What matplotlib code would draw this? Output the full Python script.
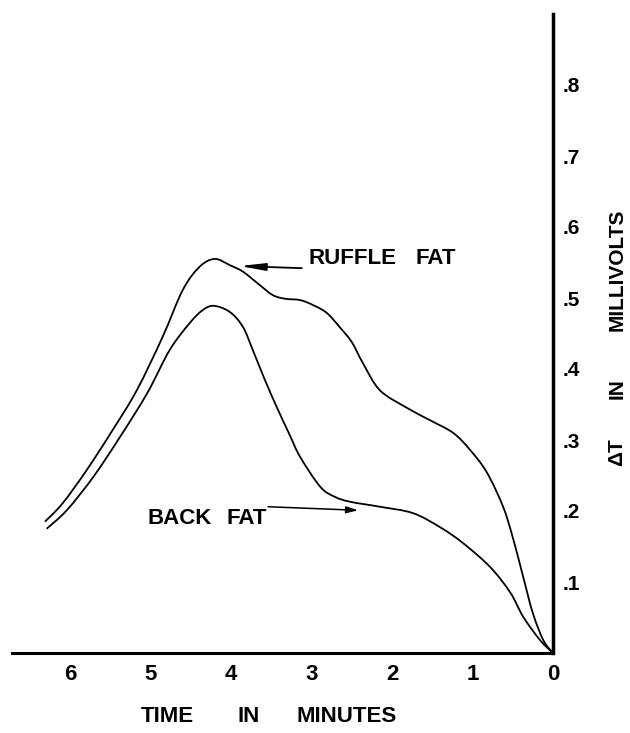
import matplotlib
matplotlib.use("Agg")
import matplotlib.pyplot as plt
from matplotlib.path import Path
from matplotlib.patches import PathPatch

plt.rcParams['font.family'] = ['Liberation Sans Narrow', 'Liberation Sans', 'DejaVu Sans']
plt.rcParams['font.weight'] = 'bold'

# time before end (minutes) and temperature difference (millivolts)
ruffle_t = [6.31, 6.09, 5.79, 5.47, 5.17, 4.85, 4.60, 4.39, 4.20, 4.01, 3.85,
            3.64, 3.48, 3.33, 3.14, 2.98, 2.81, 2.65, 2.50, 2.36, 2.15, 1.81,
            1.53, 1.24, 1.03, 0.82, 0.62, 0.50, 0.37, 0.25, 0.12, 0.0]
ruffle_mv = [0.185, 0.211, 0.258, 0.314, 0.370, 0.445, 0.511, 0.544, 0.555,
             0.546, 0.537, 0.518, 0.504, 0.499, 0.497, 0.490, 0.479, 0.459,
             0.438, 0.408, 0.370, 0.345, 0.328, 0.310, 0.286, 0.254, 0.206,
             0.163, 0.107, 0.056, 0.018, 0.0]

back_t = [6.29, 6.04, 5.71, 5.38, 5.04, 4.76, 4.51, 4.35, 4.21, 4.01, 3.85,
          3.73, 3.58, 3.43, 3.27, 3.14, 2.89, 2.71, 2.52, 2.15, 1.74, 1.40,
          1.12, 0.78, 0.53, 0.37, 0.16, 0.0]
back_mv = [0.175, 0.201, 0.248, 0.304, 0.366, 0.427, 0.465, 0.483, 0.489,
           0.480, 0.459, 0.427, 0.385, 0.346, 0.307, 0.276, 0.234, 0.220,
           0.213, 0.206, 0.197, 0.177, 0.155, 0.121, 0.085, 0.051, 0.018, 0.0]

x_ticks = [6, 5, 4, 3, 2, 1, 0]
y_ticks = [0.1, 0.2, 0.3, 0.4, 0.5, 0.6, 0.7, 0.8]
y_ticklabels = ['.1', '.2', '.3', '.4', '.5', '.6', '.7', '.8']


def smooth_curve(ax, xs, ys, **kw):
    # pass a cubic bezier through every point (catmull-rom tangents)
    pts = list(zip(xs, ys))
    verts = [pts[0]]
    codes = [Path.MOVETO]
    for i in range(len(pts) - 1):
        p0 = pts[i - 1] if i > 0 else pts[i]
        p1, p2 = pts[i], pts[i + 1]
        p3 = pts[i + 2] if i + 2 < len(pts) else pts[i + 1]
        c1 = (p1[0] + (p2[0] - p0[0]) / 6, p1[1] + (p2[1] - p0[1]) / 6)
        c2 = (p2[0] - (p3[0] - p1[0]) / 6, p2[1] - (p3[1] - p1[1]) / 6)
        verts += [c1, c2, p2]
        codes += [Path.CURVE4] * 3
    patch = PathPatch(Path(verts, codes), facecolor='none', **kw)
    ax.add_patch(patch)
    return patch


W, H = 630, 733
fig = plt.figure(figsize=(W / 100, H / 100), dpi=100)
ax = fig.add_axes([12 / W, 1 - 653 / H, (553 - 12) / W, (653 - 14) / H])

smooth_curve(ax, ruffle_t, ruffle_mv, edgecolor='black', lw=1.3, clip_on=False)
smooth_curve(ax, back_t, back_mv, edgecolor='black', lw=1.3, clip_on=False)

ax.set_xlim(6.72, 0)
ax.set_ylim(0, 0.9)

for side in ('top', 'left'):
    ax.spines[side].set_visible(False)
ax.spines['right'].set_linewidth(2.5)
ax.spines['bottom'].set_linewidth(2.2)

ax.set_xticks(x_ticks)
ax.set_xticklabels([str(t) for t in x_ticks])
ax.set_yticks(y_ticks)
ax.set_yticklabels(y_ticklabels)
ax.yaxis.tick_right()
ax.tick_params(axis='x', length=0, pad=8, labelsize=16)
ax.tick_params(axis='y', length=0, pad=7, labelsize=15)

# curve labels with pointers
ax.text(3.04, 0.555, 'RUFFLE', fontsize=16, va='center', ha='left')
ax.text(1.71, 0.555, 'FAT', fontsize=16, va='center', ha='left')
ax.annotate('', xy=(3.89, 0.545), xytext=(3.12, 0.542),
            arrowprops=dict(arrowstyle='-|>,head_length=1.5,head_width=0.22',
                            color='black', lw=1.3, shrinkA=0, shrinkB=0))

ax.text(5.04, 0.189, 'BACK', fontsize=16, va='center', ha='left')
ax.text(4.05, 0.189, 'FAT', fontsize=16, va='center', ha='left')
ax.annotate('', xy=(2.42, 0.201), xytext=(3.54, 0.206),
            arrowprops=dict(arrowstyle='-|>,head_length=0.7,head_width=0.2',
                            color='black', lw=1.1, shrinkA=0, shrinkB=0))

# axis titles, word by word
for word, cx in [('TIME', 167), ('IN', 249), ('MINUTES', 347)]:
    fig.text(cx / W, 1 - 717 / H, word, fontsize=16, ha='center', va='center')
for word, cy in [('ΔT', 452), ('IN', 389), ('MILLIVOLTS', 270)]:
    fig.text(617 / W, 1 - cy / H, word, fontsize=15, rotation=90,
             ha='center', va='center')

fig.savefig('out.png', dpi=100)
